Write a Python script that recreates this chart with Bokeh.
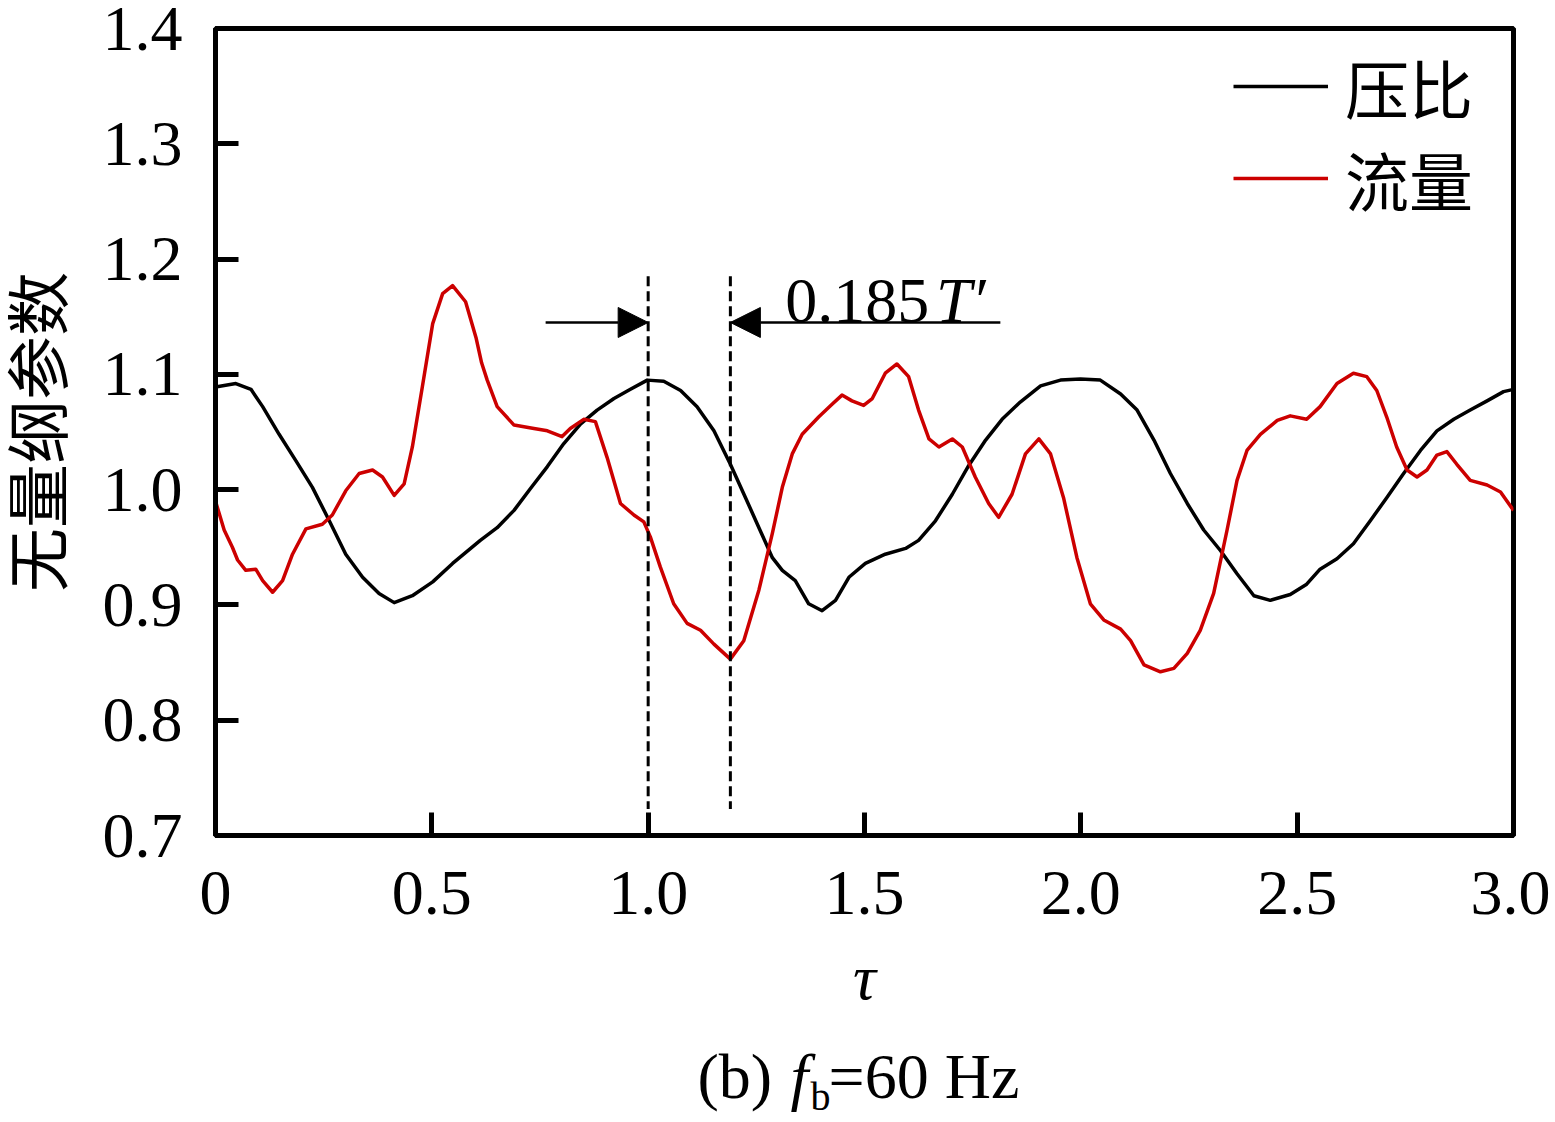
from bokeh.plotting import figure
from bokeh.layouts import column
from bokeh.models import (Range1d, FixedTicker, Legend, LegendItem, Arrow, NormalHead, Label)
from bokeh.embed import file_html
from bokeh.resources import INLINE

# ---------------- data ----------------
tau_pr = [0.000, 0.047, 0.082, 0.109, 0.147, 0.186, 0.224, 0.263, 0.301, 0.340,
          0.378, 0.413, 0.455, 0.502, 0.548, 0.612, 0.651, 0.690, 0.728, 0.767,
          0.805, 0.844, 0.882, 0.921, 0.959, 0.998, 1.036, 1.075, 1.113, 1.152,
          1.190, 1.225, 1.256, 1.287, 1.310, 1.340, 1.371, 1.402, 1.433, 1.464,
          1.502, 1.548, 1.595, 1.625, 1.664, 1.703, 1.741, 1.780, 1.818, 1.860,
          1.907, 1.953, 1.999, 2.045, 2.092, 2.130, 2.169, 2.207, 2.246, 2.284,
          2.323, 2.361, 2.400, 2.438, 2.484, 2.522, 2.553, 2.592, 2.630, 2.669,
          2.707, 2.746, 2.785, 2.823, 2.862, 2.900, 2.939, 2.977, 3.000]
pressure_ratio = [1.089, 1.092, 1.087, 1.072, 1.048, 1.025, 1.002, 0.973, 0.944, 0.924,
                  0.910, 0.902, 0.908, 0.920, 0.936, 0.956, 0.967, 0.982, 1.001, 1.020,
                  1.040, 1.057, 1.069, 1.079, 1.087, 1.095, 1.094, 1.086, 1.072, 1.051,
                  1.022, 0.993, 0.967, 0.941, 0.930, 0.921, 0.901, 0.895, 0.904, 0.924,
                  0.936, 0.944, 0.949, 0.956, 0.973, 0.996, 1.021, 1.043, 1.061, 1.076,
                  1.090, 1.095, 1.096, 1.095, 1.083, 1.069, 1.043, 1.014, 0.988, 0.965,
                  0.947, 0.927, 0.908, 0.904, 0.909, 0.918, 0.931, 0.940, 0.953, 0.973,
                  0.993, 1.014, 1.034, 1.051, 1.061, 1.069, 1.077, 1.085, 1.087]

tau_fl = [0.000, 0.020, 0.039, 0.051, 0.070, 0.093, 0.109, 0.132, 0.155, 0.178,
          0.209, 0.247, 0.270, 0.301, 0.332, 0.363, 0.386, 0.413, 0.436, 0.455,
          0.478, 0.502, 0.525, 0.548, 0.578, 0.602, 0.615, 0.628, 0.651, 0.690,
          0.736, 0.767, 0.801, 0.820, 0.851, 0.878, 0.905, 0.936, 0.967, 0.990,
          1.005, 1.028, 1.059, 1.090, 1.121, 1.152, 1.190, 1.221, 1.256, 1.287,
          1.310, 1.333, 1.356, 1.394, 1.425, 1.448, 1.471, 1.498, 1.518, 1.548,
          1.575, 1.602, 1.625, 1.649, 1.672, 1.703, 1.726, 1.756, 1.787, 1.810,
          1.841, 1.872, 1.903, 1.930, 1.960, 1.991, 2.022, 2.053, 2.092, 2.115,
          2.146, 2.184, 2.215, 2.246, 2.276, 2.307, 2.338, 2.361, 2.384, 2.415,
          2.454, 2.484, 2.522, 2.553, 2.592, 2.630, 2.661, 2.684, 2.707, 2.730,
          2.754, 2.777, 2.800, 2.823, 2.846, 2.869, 2.900, 2.939, 2.970, 3.000]
mass_flow = [0.990, 0.965, 0.950, 0.939, 0.930, 0.931, 0.921, 0.911, 0.921, 0.944,
             0.966, 0.970, 0.978, 0.999, 1.014, 1.017, 1.011, 0.995, 1.005, 1.037,
             1.089, 1.144, 1.170, 1.177, 1.163, 1.132, 1.110, 1.095, 1.072, 1.056,
             1.053, 1.051, 1.046, 1.053, 1.061, 1.059, 1.028, 0.988, 0.978, 0.972,
             0.959, 0.933, 0.901, 0.884, 0.878, 0.866, 0.853, 0.869, 0.913, 0.962,
             1.002, 1.031, 1.048, 1.063, 1.074, 1.082, 1.077, 1.073, 1.079, 1.101,
             1.109, 1.098, 1.069, 1.044, 1.037, 1.044, 1.037, 1.011, 0.988, 0.976,
             0.996, 1.031, 1.044, 1.031, 0.993, 0.941, 0.901, 0.887, 0.879, 0.869,
             0.848, 0.842, 0.845, 0.858, 0.878, 0.910, 0.965, 1.008, 1.034, 1.048,
             1.060, 1.064, 1.061, 1.072, 1.092, 1.101, 1.098, 1.086, 1.063, 1.037,
             1.017, 1.011, 1.017, 1.030, 1.033, 1.022, 1.008, 1.004, 0.998, 0.982]

x_ticks = [0, 0.5, 1.0, 1.5, 2.0, 2.5, 3.0]
x_tick_labels = ["0", "0.5", "1.0", "1.5", "2.0", "2.5", "3.0"]
y_ticks = [0.7, 0.8, 0.9, 1.0, 1.1, 1.2, 1.3, 1.4]
y_tick_labels = ["0.7", "0.8", "0.9", "1.0", "1.1", "1.2", "1.3", "1.4"]

series_names = ["压比", "流量"]
phase_marks = [1.0, 1.19]          # dashed reference lines (tau)
phase_text = "0.185"

SERIF = "Liberation Serif"
CJK_STACK = "'Liberation Serif', 'Noto Sans CJK SC'"
FS = "64px"
W = 1550

x_range = Range1d(0, 3.0)
p = figure(width=W, height=1050, output_backend="svg", toolbar_location=None,
           x_range=x_range, y_range=Range1d(0.7, 1.4),
           min_border_left=215, min_border_right=37, min_border_top=28, min_border_bottom=215)
p.background_fill_color = "white"
p.border_fill_color = "white"
p.outline_line_color = "black"
p.outline_line_width = 5
p.grid.visible = False

for ax in (p.xaxis[0], p.yaxis[0]):
    ax.axis_line_width = 5
    ax.axis_line_color = "black"
    ax.major_tick_in = 23
    ax.major_tick_out = 0
    ax.major_tick_line_width = 5
    ax.minor_tick_line_color = None
    ax.major_label_text_font = SERIF
    ax.major_label_text_font_size = FS
    ax.major_label_text_color = "black"
    ax.axis_label_text_color = "black"

p.xaxis.ticker = FixedTicker(ticks=x_ticks)
p.xaxis.major_label_overrides = {t: l for t, l in zip(x_ticks, x_tick_labels)}
p.yaxis.ticker = FixedTicker(ticks=y_ticks)
p.yaxis.major_label_overrides = {t: l for t, l in zip(y_ticks, y_tick_labels)}
p.xaxis.major_label_standoff = 36
p.yaxis.major_label_standoff = 33

p.xaxis.axis_label = "τ"
p.xaxis.axis_label_text_font = SERIF
p.xaxis.axis_label_text_font_style = "italic"
p.xaxis.axis_label_text_font_size = FS
p.xaxis.axis_label_standoff = 25

p.yaxis.axis_label = "无量纲参数"
p.yaxis.axis_label_text_font = CJK_STACK
p.yaxis.axis_label_text_font_style = "normal"
p.yaxis.axis_label_text_font_size = "64px"
p.yaxis.axis_label_standoff = 24

r_pr = p.line(tau_pr, pressure_ratio, line_color="black", line_width=3.5, line_join="round")
r_fl = p.line(tau_fl, mass_flow, line_color="#cc0000", line_width=3.5, line_join="round")

# dashed phase markers
p.segment(x0=phase_marks, y0=[1.185] * len(phase_marks), x1=phase_marks, y1=[0.723] * len(phase_marks),
          line_color="black", line_width=3, line_dash="10 5")

# arrows
p.add_layout(Arrow(end=NormalHead(size=30, fill_color="black", line_color="black"),
                   x_start=0.763, y_start=1.145, x_end=phase_marks[0], y_end=1.145,
                   line_color="black", line_width=2.5))
p.add_layout(Arrow(end=NormalHead(size=30, fill_color="black", line_color="black"),
                   x_start=1.814, y_start=1.145, x_end=phase_marks[1], y_end=1.145,
                   line_color="black", line_width=2.5))

p.add_layout(Label(x=1.317, y=1.164, text=phase_text, text_font=SERIF, text_font_size=FS,
                   text_baseline="alphabetic", text_align="left", text_color="black"))
p.add_layout(Label(x=1.665, y=1.164, text="T′", text_font=SERIF, text_font_size=FS,
                   text_font_style="italic", text_baseline="alphabetic", text_align="left",
                   text_color="black"))

legend = Legend(items=[LegendItem(label=series_names[0], renderers=[r_pr]),
                       LegendItem(label=series_names[1], renderers=[r_fl])],
                location=(1008, 601), orientation="vertical")
legend.label_text_font = CJK_STACK
legend.label_text_font_size = FS
legend.label_text_color = "black"
legend.glyph_width = 95
legend.glyph_height = 70
legend.label_height = 70
legend.label_width = 133
legend.label_standoff = 17
legend.spacing = 0
legend.padding = 10
legend.margin = 0
legend.border_line_alpha = 0
legend.background_fill_alpha = 0
p.add_layout(legend)

# caption strip below the chart (shares the x scale of the chart)
cap = figure(width=W, height=70, output_backend="svg", toolbar_location=None, title=None,
             x_range=x_range, y_range=Range1d(0, 70),
             x_axis_type=None, y_axis_type=None,
             min_border_left=215, min_border_right=37, min_border_top=0, min_border_bottom=0)
cap.outline_line_color = None
cap.grid.visible = False
cap.background_fill_color = "white"
cap.border_fill_color = "white"
cap_y = 44
cap.add_layout(Label(x=1.114, y=cap_y, text="(b)", text_font=SERIF, text_font_size=FS,
                     text_baseline="alphabetic", text_align="left", text_color="black"))
cap.add_layout(Label(x=1.329, y=cap_y, text="f", text_font=SERIF, text_font_size=FS,
                     text_font_style="italic", text_baseline="alphabetic", text_align="left",
                     text_color="black"))
cap.add_layout(Label(x=1.375, y=cap_y - 20, text="b", text_font=SERIF, text_font_size="40px",
                     text_baseline="alphabetic", text_align="left", text_color="black"))
cap.add_layout(Label(x=1.417, y=cap_y, text="=60 Hz", text_font=SERIF, text_font_size=FS,
                     text_baseline="alphabetic", text_align="left", text_color="black"))

open("out.html", "w").write(file_html(column(p, cap, spacing=0), INLINE))
